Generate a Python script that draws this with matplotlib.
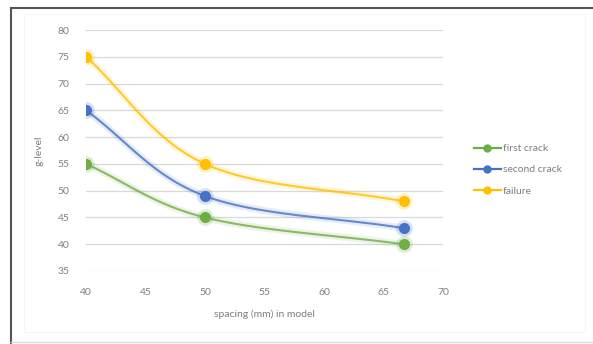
import numpy as np
import matplotlib.pyplot as plt
from matplotlib.patches import Rectangle
from matplotlib.lines import Line2D

spacing = [40, 50, 66.7]
first_crack = [55, 45, 40]
second_crack = [65, 49, 43]
failure = [75, 55, 48]

series = [
    ("first crack", first_crack, "#70ad47"),
    ("second crack", second_crack, "#4472c4"),
    ("failure", failure, "#ffc000"),
]

plt.rcParams['font.family'] = ['Lato', 'DejaVu Sans']


def smooth(xs, ys, n=60, tension=0.5):
    """Cardinal spline through the points, similar to a smoothed line chart."""
    pts = np.column_stack([xs, ys]).astype(float)
    ext = np.vstack([pts[0] - (pts[1] - pts[0]), pts, pts[-1] + (pts[-1] - pts[-2])])
    out = []
    for i in range(1, len(ext) - 2):
        p0, p1, p2, p3 = ext[i - 1], ext[i], ext[i + 1], ext[i + 2]
        m1 = tension * (p2 - p0)
        m2 = tension * (p3 - p1)
        t = np.linspace(0, 1, n)[:, None]
        h00 = 2 * t**3 - 3 * t**2 + 1
        h10 = t**3 - 2 * t**2 + t
        h01 = -2 * t**3 + 3 * t**2
        h11 = t**3 - t**2
        out.append(h00 * p1 + h10 * m1 + h01 * p2 + h11 * m2)
    c = np.vstack(out)
    return c[:, 0], c[:, 1]


W, H = 593, 344
fig = plt.figure(figsize=(W / 100, H / 100), dpi=100)
fig.patch.set_facecolor('white')

# outer frame of the chart: dark top and left edges, faint bottom edge
fig.add_artist(Line2D([11 / W, 1], [1 - 8 / H, 1 - 8 / H], transform=fig.transFigure,
                      color='#555555', linewidth=1.5))
fig.add_artist(Line2D([11 / W, 11 / W], [1 / H, 1 - 8 / H], transform=fig.transFigure,
                      color='#555555', linewidth=1.5))
fig.add_artist(Line2D([11 / W, 1], [2 / H, 2 / H], transform=fig.transFigure,
                      color='#dddddd', linewidth=1.0))
# very faint chart-area outline
fig.add_artist(Rectangle((24 / W, 12 / H), (585 - 24) / W, (330 - 12) / H,
                         transform=fig.transFigure, fill=False,
                         edgecolor='#f6f6f6', linewidth=0.8))

ax = fig.add_axes([86 / W, 1 - 271 / H, (443 - 86) / W, (271 - 30) / H])
ax.set_xlim(40, 70)
ax.set_ylim(35, 80)
ax.set_xticks(np.arange(40, 71, 5))
ax.set_yticks(np.arange(35, 81, 5))
for s in ax.spines.values():
    s.set_visible(False)
ax.grid(axis='y', color='#d9d9d9', linewidth=0.9)
ax.set_axisbelow(True)
ax.tick_params(axis='x', length=0, labelsize=7.5, labelcolor='#7f7f7f', pad=12)
ax.tick_params(axis='y', length=0, labelsize=7.5, labelcolor='#7f7f7f', pad=12)
ax.set_xlabel('spacing (mm) in model', fontsize=7.5, color='#7f7f7f', labelpad=9)
ax.set_ylabel('g-level', fontsize=7.5, color='#7f7f7f', labelpad=10)

for label, ys, col in series:
    sx, sy = smooth(spacing, ys)
    ax.plot(sx, sy, color=col, linewidth=5, alpha=0.13, solid_capstyle='round')
    ax.plot(sx, sy, color=col, linewidth=1.5, alpha=0.8)
    ax.plot(spacing, ys, linestyle='none', marker='o', markersize=12,
            color=col, alpha=0.22, markeredgewidth=0)
    ax.plot(spacing, ys, linestyle='none', marker='o', markersize=8,
            color=col, markeredgewidth=0)
    ax.plot([], [], color=col, linewidth=1.6, marker='o', markersize=5, label=label)

leg = ax.legend(loc='center left', bbox_to_anchor=(1.06, 0.42), frameon=False,
                fontsize=7.5, labelcolor='#7f7f7f', handlelength=2.6,
                handletextpad=0.2, labelspacing=1.15)

fig.savefig('out.png', dpi=100, facecolor='white')
